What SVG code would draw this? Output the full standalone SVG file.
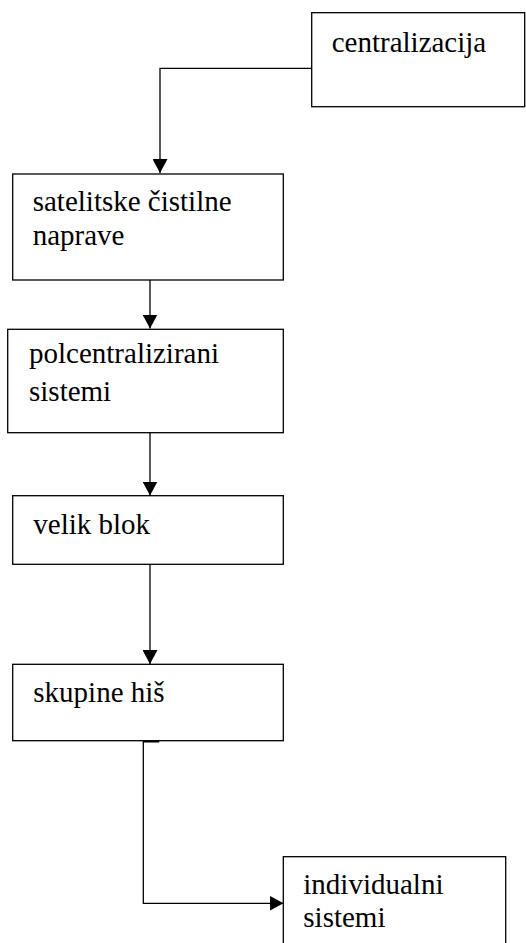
<svg xmlns="http://www.w3.org/2000/svg" width="526" height="943" viewBox="0 0 526 943">
<style>
.box{fill:#fff;stroke:#000;stroke-width:1.3}
.lbl{font-family:"Liberation Serif","Times New Roman",serif;font-size:29px;fill:#000}
.con{fill:none;stroke:#000;stroke-width:1.3}
</style>
<defs>
<marker id="ah" markerWidth="15" markerHeight="15" refX="14" refY="7.5" orient="auto" markerUnits="userSpaceOnUse">
<path d="M0,0 L14,7.5 L0,15 Z" fill="#000"/>
</marker>
</defs>
<rect width="526" height="943" fill="#fff"/>
<g id="connectors">
<polyline class="con" points="311.7,68.3 160,68.3 160,173" marker-end="url(#ah)"/>
<line class="con" x1="150" y1="280" x2="150" y2="328.5" marker-end="url(#ah)"/>
<line class="con" x1="150" y1="432.7" x2="150" y2="495.5" marker-end="url(#ah)"/>
<line class="con" x1="150" y1="564.3" x2="150" y2="664" marker-end="url(#ah)"/>
<line x1="143.3" y1="741.5" x2="159.3" y2="741.5" stroke="#000" stroke-width="2"/>
<polyline class="con" points="143.3,741 143.3,903.3 283.5,903.3" marker-end="url(#ah)"/>
</g>
<g id="centralizacija">
<rect class="box" x="311.7" y="12.7" width="213" height="94"/>
<text class="lbl" x="331.7" y="51.7">centralizacija</text>
</g>
<g id="satelitske">
<rect class="box" x="12.7" y="174" width="270.6" height="106"/>
<text class="lbl" x="32.7" y="210.7">satelitske čistilne</text>
<text class="lbl" x="32.7" y="245">naprave</text>
</g>
<g id="polcentralizirani">
<rect class="box" x="7.7" y="329.3" width="275.6" height="103.4"/>
<text class="lbl" x="29" y="363">polcentralizirani</text>
<text class="lbl" x="29" y="400.7">sistemi</text>
</g>
<g id="velik-blok">
<rect class="box" x="12.7" y="495.7" width="270.6" height="68.6"/>
<text class="lbl" x="33.3" y="534">velik blok</text>
</g>
<g id="skupine-his">
<rect class="box" x="12.7" y="664.3" width="270.6" height="76.4"/>
<text class="lbl" x="33.3" y="701.7">skupine hiš</text>
</g>
<g id="individualni">
<rect class="box" x="283.3" y="856.7" width="222.4" height="100"/>
<text class="lbl" x="303.3" y="894">individualni</text>
<text class="lbl" x="303.3" y="926.7">sistemi</text>
</g>
</svg>
